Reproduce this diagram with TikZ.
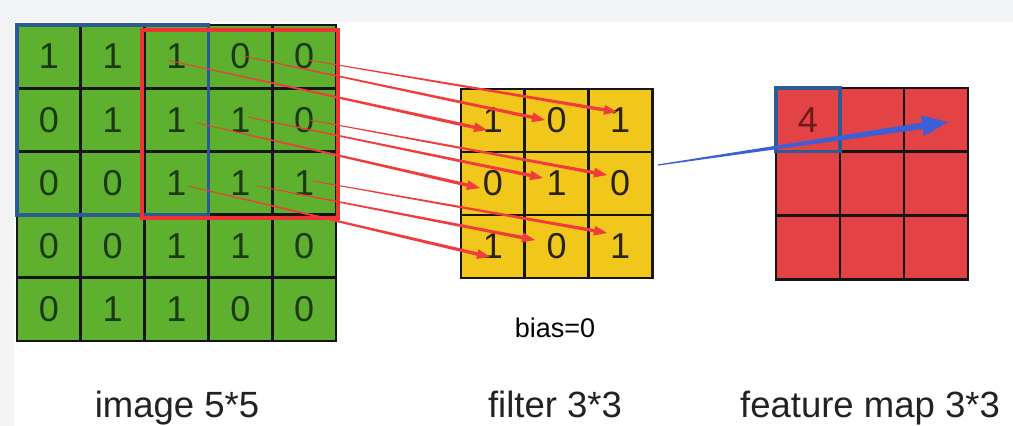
\documentclass[tikz,border=0pt]{standalone}
\usepackage{fontspec}
\setmainfont{Liberation Sans}
\usetikzlibrary{calc}
\definecolor{bggray}{HTML}{F2F3F5}
\definecolor{gfill}{HTML}{5DB12F}
\definecolor{yfill}{HTML}{F1C71B}
\definecolor{rfill}{HTML}{E44346}
\definecolor{gridc}{HTML}{161616}
\definecolor{gtext}{HTML}{1C3A10}
\definecolor{ytext}{HTML}{2A2310}
\definecolor{rtext}{HTML}{6E1A1A}
\definecolor{winblue}{HTML}{2D5A92}
\definecolor{winred}{HTML}{F03434}
\definecolor{arrred}{HTML}{F23B3B}
\definecolor{arrblue}{HTML}{3A5FD6}
\definecolor{labtext}{HTML}{222222}
\newcommand\taparrow[7]{%
  \coordinate (tb) at ($(#3)!#6!(#2)$);
  \fill[#1] ($(#2)!#4!90:(#3)$) -- ($(tb)!#5!90:(#3)$) -- ($(tb)!#7!90:(#3)$) -- (#3)
    -- ($(tb)!#7!-90:(#3)$) -- ($(tb)!#5!-90:(#3)$) -- ($(#2)!#4!-90:(#3)$) -- cycle;
}
\begin{document}
\begin{tikzpicture}[x=1pt,y=-1pt,
  cellbase/.style={rectangle, inner sep=0pt, outer sep=0pt, font=\fontsize{36}{40}\selectfont},
  gcell/.style={cellbase, fill=gfill, text=gtext, minimum width=63.8pt, minimum height=63.2pt},
  ycell/.style={cellbase, fill=yfill, text=ytext, minimum width=63.7pt, minimum height=63pt},
  fcell/.style={cellbase, fill=rfill, text=rtext, minimum width=64pt, minimum height=63.7pt},
  gridline/.style={draw=gridc, line width=2.9pt},
  bluewin/.style={draw=winblue, line width=3.8pt},
  redwin/.style={draw=winred, line width=3.8pt},
  label/.style={anchor=base, text=labtext, inner sep=0pt, font=\fontsize{36.5}{40}\selectfont},
  smalllabel/.style={anchor=base, text=black, inner sep=0pt, font=\fontsize{27}{30}\selectfont}
]
\useasboundingbox (0,0) rectangle (1013,426);
\fill[white] (0,0) rectangle (1013,426);
\fill[bggray] (0,0) rectangle (1013,22);
\fill[bggray] (0,22) rectangle (14,426);

% image 5x5
\foreach \v [count=\i from 0] in {1,1,1,0,0, 0,1,1,1,0, 0,0,1,1,1, 0,0,1,1,0, 0,1,1,0,0}{
  \pgfmathtruncatemacro\rr{\i/5}
  \pgfmathtruncatemacro\cc{\i-5*\rr}
  \node[gcell] (g-\rr-\cc) at ({17+63.8*(\cc+0.5)},{25+63.2*(\rr+0.5)}) {\v};
}
\foreach \rr in {0,...,4}{\foreach \cc in {0,...,4}{
  \draw[gridline] (g-\rr-\cc.north west) rectangle (g-\rr-\cc.south east);
}}

% filter 3x3
\foreach \v [count=\i from 0] in {1,0,1, 0,1,0, 1,0,1}{
  \pgfmathtruncatemacro\rr{\i/3}
  \pgfmathtruncatemacro\cc{\i-3*\rr}
  \node[ycell] (y-\rr-\cc) at ({461+63.7*(\cc+0.5)},{89+63*(\rr+0.5)}) {\v};
}
\foreach \rr in {0,...,2}{\foreach \cc in {0,...,2}{
  \draw[gridline] (y-\rr-\cc.north west) rectangle (y-\rr-\cc.south east);
}}

% feature map 3x3
\foreach \v [count=\i from 0] in {4,{},{}, {},{},{}, {},{},{}}{
  \pgfmathtruncatemacro\rr{\i/3}
  \pgfmathtruncatemacro\cc{\i-3*\rr}
  \node[fcell] (f-\rr-\cc) at ({776+64*(\cc+0.5)},{88+63.7*(\rr+0.5)}) {\v};
}
\foreach \rr in {0,...,2}{\foreach \cc in {0,...,2}{
  \draw[gridline] (f-\rr-\cc.north west) rectangle (f-\rr-\cc.south east);
}}

% windows
\draw[bluewin] (g-0-0.north west) rectangle (g-2-2.south east);
\draw[redwin] ($(g-0-2.north west)+(-3,5)$) rectangle ($(g-2-4.south east)+(2,3.5)$);
\draw[bluewin, line width=3.2pt] (f-0-0.north west) rectangle (f-0-0.south east);

% labels
\node[label] (limg) at (177,417) {image 5*5};
\node[label] (lfil) at (555,417) {filter 3*3};
\node[label] (lmap) at (870,417) {feature map 3*3};
\node[smalllabel] (lbias) at (555,337) {bias=0};

% arrow end points
\coordinate (s1) at (167,60);  \coordinate (e1) at (487,130);
\coordinate (s2) at (243,56);  \coordinate (e2) at (545,120);
\coordinate (s3) at (308,60);  \coordinate (e3) at (617,112);
\coordinate (s4) at (197,123); \coordinate (e4) at (480,188);
\coordinate (s5) at (248,117); \coordinate (e5) at (543,178);
\coordinate (s6) at (310,120); \coordinate (e6) at (607,175);
\coordinate (s7) at (188,186); \coordinate (e7) at (490,257);
\coordinate (s8) at (257,186); \coordinate (e8) at (535,240);
\coordinate (s9) at (313,181); \coordinate (e9) at (607,233);
\foreach \k in {1,...,9}{
  \taparrow{arrred}{s\k}{e\k}{0.4pt}{1.7pt}{13pt}{5pt}
}

\coordinate (bs) at (658,165);
\coordinate (be) at (948,122);
\taparrow{arrblue}{bs}{be}{0.6pt}{3.2pt}{26pt}{10.5pt}
\end{tikzpicture}
\end{document}
